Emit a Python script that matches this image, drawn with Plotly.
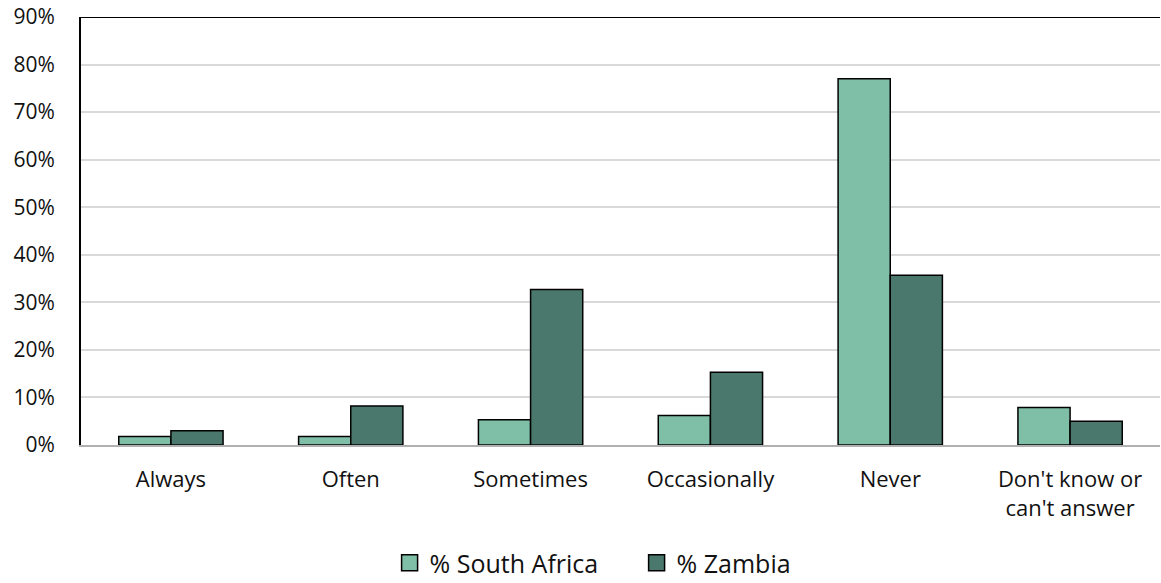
import plotly.graph_objects as go

categories = ["Always", "Often", "Sometimes", "Occasionally", "Never", "Don't know or<br>can't answer"]
south_africa = [0.018, 0.018, 0.053, 0.062, 0.77, 0.079]
zambia = [0.030, 0.082, 0.327, 0.153, 0.357, 0.050]
y_ticks = [i / 10 for i in range(10)]
y_tick_labels = [f"{i * 10}%" for i in range(10)]

FONT = "'Open Sans', Carlito, Calibri, sans-serif"
SA_COLOR = "#7fbfa8"
ZM_COLOR = "#4a786c"
OUTLINE = dict(color="#000000", width=1.5)

fig = go.Figure()
fig.add_trace(go.Bar(
    name="% South Africa", x=categories, y=south_africa, showlegend=False,
    marker=dict(color=SA_COLOR, line=OUTLINE),
))
fig.add_trace(go.Bar(
    name="% Zambia", x=categories, y=zambia, showlegend=False,
    marker=dict(color=ZM_COLOR, line=OUTLINE),
))

# legend keys: larger outlined squares
for name, color in [("% South Africa", SA_COLOR), ("% Zambia", ZM_COLOR)]:
    fig.add_trace(go.Scatter(
        x=[None], y=[None], mode="markers", name=name,
        marker=dict(symbol="square", size=18, color=color, line=OUTLINE),
    ))

# top border of the plot area
fig.add_shape(type="line", xref="paper", yref="y", x0=0, x1=1, y0=0.9, y1=0.9,
              line=dict(color="#000000", width=2))

fig.update_layout(
    width=1161, height=583,
    margin=dict(l=81, r=1, t=17, b=138, autoexpand=False),
    paper_bgcolor="white", plot_bgcolor="white",
    barmode="group", bargap=0.42, bargroupgap=0,
    font=dict(family=FONT, size=22, color="#111111"),
    showlegend=True,
    legend=dict(orientation="h", x=0.286, xanchor="left", y=-0.222, yanchor="top",
                font=dict(size=25, color="#111111"), itemwidth=30,
                itemsizing="trace", entrywidth=202, tracegroupgap=0),
    xaxis=dict(showline=True, linecolor="#b0b0b0", linewidth=2, ticks="",
               tickfont=dict(size=22), ticklabelstandoff=14, fixedrange=True),
    yaxis=dict(range=[0, 0.9], tickvals=y_ticks, ticktext=y_tick_labels,
               showgrid=True, gridcolor="#d9d9d9", gridwidth=2,
               showline=True, linecolor="#000000", linewidth=2,
               zeroline=False, ticks="", ticklen=0, tickfont=dict(size=21),
               ticklabelstandoff=20, fixedrange=True),
)

fig.write_html("out.html")
